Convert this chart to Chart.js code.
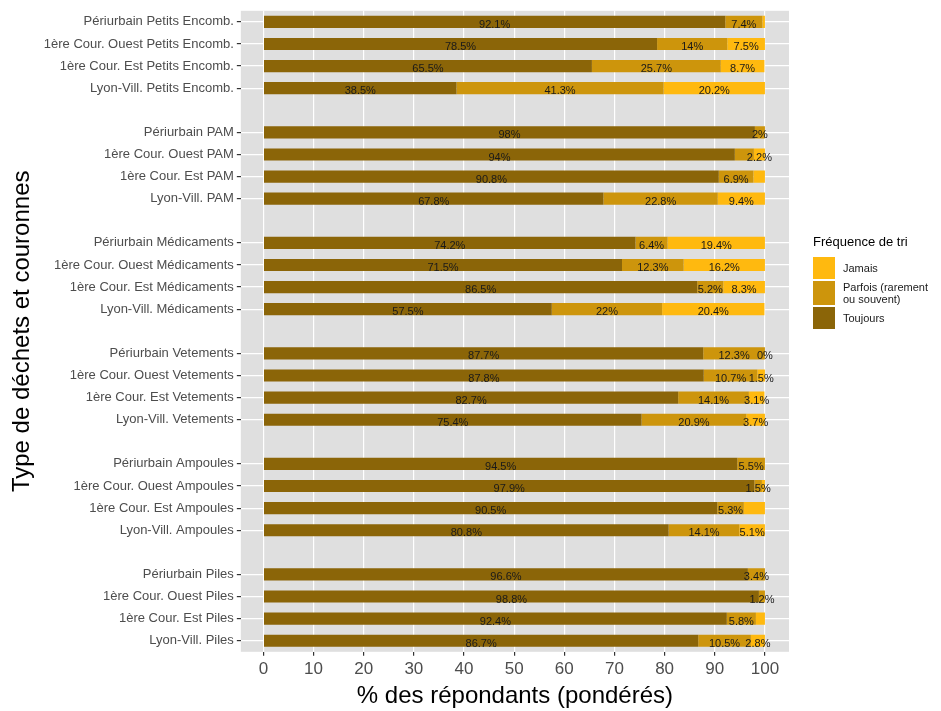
<!DOCTYPE html>
<html>
<head>
<meta charset="utf-8">
<script src="https://cdn.jsdelivr.net/npm/chart.js@4"></script>
<style>
  body { margin: 0; background: #fff; font-family: "Liberation Sans", Arial, sans-serif; }
  #wrap { position: relative; width: 941px; height: 711px; }
  #legend { position: absolute; left: 813px; top: 234px; color: #1a1a1a; }
  #legend .title { font-size: 13px; color: #000; margin-bottom: 8px; }
  #legend .item { display: flex; align-items: center; margin-bottom: 2px; }
  #legend .key { width: 22px; flex: none; margin-right: 8px; }
  #legend .lbl { font-size: 11px; line-height: 12px; }
</style>
</head>
<body>
<div id="wrap">
  <canvas id="chart" width="941" height="711"></canvas>
  <div id="legend"></div>
</div>
<script>
// categories, top to bottom ('' = blank row between groups)
const categories = [
    'Périurbain Petits Encomb.', '1ère Cour. Ouest Petits Encomb.', '1ère Cour. Est Petits Encomb.', 'Lyon-Vill. Petits Encomb.', '',
    'Périurbain PAM', '1ère Cour. Ouest PAM', '1ère Cour. Est PAM', 'Lyon-Vill. PAM', '',
    'Périurbain Médicaments', '1ère Cour. Ouest Médicaments', '1ère Cour. Est Médicaments', 'Lyon-Vill. Médicaments', '',
    'Périurbain Vetements', '1ère Cour. Ouest Vetements', '1ère Cour. Est Vetements', 'Lyon-Vill. Vetements', '',
    'Périurbain Ampoules', '1ère Cour. Ouest Ampoules', '1ère Cour. Est Ampoules', 'Lyon-Vill. Ampoules', '',
    'Périurbain Piles', '1ère Cour. Ouest Piles', '1ère Cour. Est Piles', 'Lyon-Vill. Piles',
];

const toujours = [92.1, 78.5, 65.5, 38.5, null, 98, 94, 90.8, 67.8, null, 74.2, 71.5, 86.5, 57.5, null,
    87.7, 87.8, 82.7, 75.4, null, 94.5, 97.9, 90.5, 80.8, null, 96.6, 98.8, 92.4, 86.7];
const parfois = [7.4, 14, 25.7, 41.3, null, 2, 3.8, 6.9, 22.8, null, 6.4, 12.3, 5.2, 22, null,
    12.3, 10.7, 14.1, 20.9, null, 5.5, 1.5, 5.3, 14.1, null, 3.4, 1.2, 5.8, 10.5];
const jamais = [0.5, 7.5, 8.7, 20.2, null, 0, 2.2, 2.3, 9.4, null, 19.4, 16.2, 8.3, 20.4, null,
    0, 1.5, 3.1, 3.7, null, 0, 0.6, 4.2, 5.1, null, 0, 0, 1.8, 2.8];

// segments without a printed label in the original
const noLabelParfois = ['1ère Cour. Ouest PAM'];
const noLabelJamais = ['Périurbain Petits Encomb.', 'Périurbain PAM', '1ère Cour. Est PAM',
    'Périurbain Ampoules', '1ère Cour. Ouest Ampoules', '1ère Cour. Est Ampoules',
    'Périurbain Piles', '1ère Cour. Ouest Piles', '1ère Cour. Est Piles'];

const xTicks = [0, 10, 20, 30, 40, 50, 60, 70, 80, 90, 100];

const FONT = '"Liberation Sans", Arial, sans-serif';

// fond gris du panneau
const panelBg = {
    id: 'panelBg',
    beforeDraw(chart) {
        const a = chart.chartArea;
        chart.ctx.save();
        chart.ctx.fillStyle = '#DFDFDF';
        chart.ctx.fillRect(a.left, a.top, a.right - a.left, a.bottom - a.top);
        chart.ctx.restore();
    }
};

// étiquettes au centre des segments
const barLabels = {
    id: 'barLabels',
    afterDatasetsDraw(chart) {
        const ctx = chart.ctx;
        ctx.save();
        ctx.font = '11px ' + FONT;
        ctx.fillStyle = '#1a1a1a';
        ctx.textAlign = 'center';
        ctx.textBaseline = 'middle';
        chart.data.datasets.forEach((ds, i) => {
            chart.getDatasetMeta(i).data.forEach((bar, j) => {
                const v = ds.data[j];
                if (v === null || ds.noLabel.includes(categories[j])) return;
                ctx.fillText(v + '%', (bar.x + bar.base) / 2, bar.y + 3);
            });
        });
        ctx.restore();
    }
};

const series = [
    { label: 'Toujours', data: toujours, backgroundColor: '#8B6508', noLabel: [] },
    { label: 'Parfois (rarement\nou souvent)', data: parfois, backgroundColor: '#CD950C', noLabel: noLabelParfois },
    { label: 'Jamais', data: jamais, backgroundColor: '#FFB90F', noLabel: noLabelJamais },
];

const ctx = document.getElementById('chart').getContext('2d');
new Chart(ctx, {
    type: 'bar',
    data: {
        labels: categories,
        datasets: series.map(s => ({
            label: s.label,
            data: s.data,
            backgroundColor: s.backgroundColor,
            borderWidth: 0,
            barPercentage: 0.55,
            categoryPercentage: 1,
            noLabel: s.noLabel,
        })),
    },
    options: {
        indexAxis: 'y',
        responsive: false,
        animation: false,
        layout: { padding: { top: 10, right: 152, left: 4, bottom: 0 } },
        plugins: {
            legend: { display: false },
            tooltip: { enabled: false },
        },
        scales: {
            x: {
                type: 'linear',
                stacked: true,
                min: -4.5,
                max: 104.8,
                afterBuildTicks: scale => { scale.ticks = xTicks.map(v => ({ value: v })); },
                border: { display: false },
                grid: { color: '#ffffff', lineWidth: 1.2, tickColor: '#333333', tickLength: 4 },
                ticks: { font: { family: FONT, size: 17 }, color: '#4D4D4D', padding: 3 },
                title: {
                    display: true,
                    text: '% des répondants (pondérés)',
                    font: { family: FONT, size: 24 },
                    color: '#000',
                    padding: { top: 0, bottom: 0 },
                },
            },
            y: {
                type: 'category',
                stacked: true,
                border: { display: false },
                grid: {
                    offset: false,
                    lineWidth: 1.2,
                    tickLength: 4,
                    color: c => categories[c.index] ? '#ffffff' : 'rgba(0,0,0,0)',
                    tickColor: c => categories[c.index] ? '#333333' : 'rgba(0,0,0,0)',
                },
                ticks: { autoSkip: false, font: { family: FONT, size: 13 }, color: '#4D4D4D', padding: 3 },
                title: {
                    display: true,
                    text: 'Type de déchets et couronnes',
                    font: { family: FONT, size: 24 },
                    color: '#000',
                    padding: { top: 4, bottom: 4 },
                },
            },
        },
    },
    plugins: [panelBg, barLabels],
});

// légende à droite (ordre inverse, comme ggplot)
const legend = document.getElementById('legend');
legend.innerHTML = '<div class="title">Fréquence de tri</div>' +
    series.slice().reverse().map(s =>
        '<div class="item"><div class="key" style="background:' + s.backgroundColor + ';height:' +
        (s.label.includes('\n') ? 24 : 22) + 'px"></div><div class="lbl">' +
        s.label.replace('\n', '<br>') + '</div></div>').join('');
</script>
</body>
</html>
